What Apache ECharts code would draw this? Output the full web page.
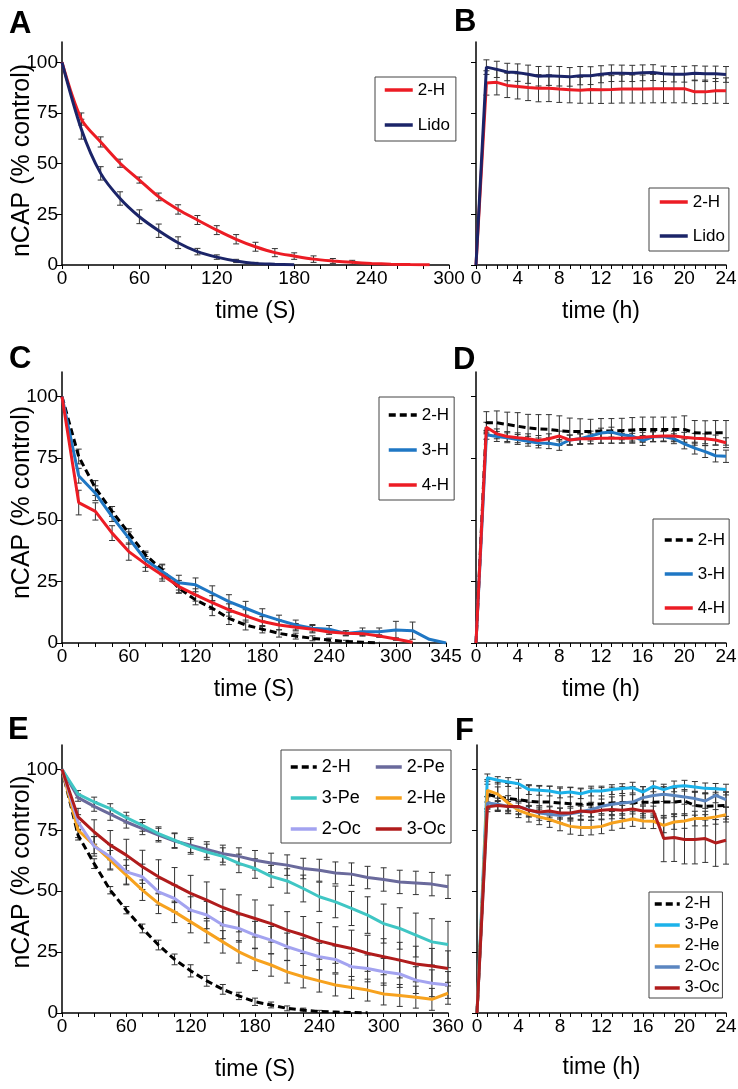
<!DOCTYPE html>
<html><head><meta charset="utf-8">
<script src="https://cdn.jsdelivr.net/npm/echarts@6.0.0/dist/echarts.min.js"></script>
<style>html,body{margin:0;padding:0;background:#fff}#c{width:738px;height:1089px}</style>
</head><body><div id="c"></div>
<script>
const FONT = '"Liberation Sans", Arial, Helvetica, sans-serif';

// ---------- tick labels ----------
const yTicks = [0, 25, 50, 75, 100];
const secLabelsA = [0, 60, 120, 180, 240, 300];
const secTicksA = [0, 20, 40, 60, 80, 100, 120, 140, 160, 180, 200, 220, 240, 260, 280, 300];
const secLabelsC = [0, 60, 120, 180, 240, 300, 345];
const secTicksC = [0, 15, 30, 45, 60, 75, 90, 105, 120, 135, 150, 165, 180, 195, 210, 225, 240, 255, 270, 285, 300, 315, 330, 345];
const secLabelsE = [0, 60, 120, 180, 240, 300, 360];
const secTicksE = [0, 15, 30, 45, 60, 75, 90, 105, 120, 135, 150, 165, 180, 195, 210, 225, 240, 255, 270, 285, 300, 315, 330, 345, 360];
const hourLabels = [0, 4, 8, 12, 16, 20, 24];
const hourTicks = [0, 1, 2, 3, 4, 5, 6, 7, 8, 9, 10, 11, 12, 13, 14, 15, 16, 17, 18, 19, 20, 21, 22, 23, 24];

// ---------- time points ----------
const timeA = [0, 15, 30, 45, 60, 75, 90, 105, 120, 135, 150, 165, 180, 195, 210, 225, 240, 255, 270, 285];
const timeC = [0, 15, 30, 45, 60, 75, 90, 105, 120, 135, 150, 165, 180, 195, 210, 225, 240, 255, 270, 285, 300, 315, 330, 345];
const timeE = [0, 15, 30, 45, 60, 75, 90, 105, 120, 135, 150, 165, 180, 195, 210, 225, 240, 255, 270, 285, 300, 315, 330, 345, 360];
const hours = [0, 1, 2, 3, 4, 5, 6, 7, 8, 9, 10, 11, 12, 13, 14, 15, 16, 17, 18, 19, 20, 21, 22, 23, 24];

// ---------- Panel A ----------
const a2H = [100, 72, 60.7, 50.2, 41.9, 33.6, 27.4, 22.2, 17.2, 12.7, 9.0, 6.1, 4.4, 2.9, 2.0, 1.3, 0.8, 0.4, 0.2, 0.1];
const a2HErr = [0, 3, 2.5, 2, 1.5, 1.9, 2.3, 2.2, 2.2, 2.3, 2.2, 2, 1.6, 1.6, 1.2, 1, 0, 0, 0, 0];
const aLido = [100, 67, 45.2, 32.8, 23.8, 16.9, 11.0, 6.6, 3.9, 2.0, 0.8, 0.4, 0.1];
const aLidoErr = [0, 4.9, 3.3, 3.3, 3.4, 3.3, 2.9, 1.6, 1.1, 0.8, 0.5, 0, 0];

// ---------- Panel B ----------
const bLido = [0, 97.6, 96.5, 95.2, 94.9, 94.1, 93.1, 93.3, 93.1, 92.8, 93.4, 93.4, 94.1, 94.6, 94.6, 94.5, 94.8, 94.9, 94.3, 94.1, 94.1, 94.6, 94.3, 94.3, 94.0];
const bLidoErr = [0, 3.6, 4, 4.3, 4.3, 4.5, 4.8, 4.7, 4.8, 4.6, 4.5, 4.4, 4.2, 4.1, 4.0, 4.0, 3.9, 3.9, 3.8, 3.8, 3.9, 3.7, 3.8, 3.8, 3.9];
const b2H = [0, 89.8, 90.1, 88.6, 88.1, 87.5, 87.2, 87.2, 86.8, 86.5, 86.2, 86.6, 86.5, 86.6, 86.8, 86.8, 86.8, 87.0, 87.0, 87.0, 87.0, 85.4, 85.4, 85.9, 86.0];
const b2HErr = [0, 6, 6.2, 6, 6.2, 6.4, 6.7, 6.6, 6.6, 6.5, 6.4, 6.8, 6.8, 6.8, 6.9, 6.9, 6.9, 7, 7, 7, 7, 5.8, 5.8, 6.1, 6.3];

// ---------- Panel C ----------
const c2H = [100, 75.7, 62.9, 53.4, 44.6, 35.8, 29.7, 22.2, 17.5, 14.1, 10.0, 7.3, 5.6, 3.9, 2.8, 1.9, 1.2, 0.6, 0.3, 0.1];
const c2HErr = [0, 3, 3, 2, 1.8, 1.5, 2, 2, 2, 3, 2.5, 2, 1.5, 1.5, 1.2, 1, 0.8, 0.5, 0, 0];
const c3H = [100, 67.9, 60.8, 51.3, 42.6, 33.7, 29.0, 24.5, 23.6, 20.2, 16.8, 14.1, 11.4, 9.3, 7.3, 6.0, 5.6, 3.9, 4.6, 4.6, 5.3, 5.0, 1.5, 0];
const c3HErr = [0, 3, 3, 2, 2.5, 3, 3, 3, 2.8, 3, 2.8, 2.8, 2.5, 2, 2, 1.5, 1.5, 1, 1.5, 1.5, 3.5, 3.5, 0, 0];
const c4H = [100, 57.0, 53.4, 44.6, 37.1, 32.1, 27.6, 22.9, 19.5, 16.4, 13.4, 11.0, 8.7, 7.3, 6.4, 5.6, 4.5, 4.0, 3.8, 2.8, 1.6, 0.3];
const c4HErr = [0, 5, 3.5, 3, 3.5, 3, 2.5, 2.5, 2.5, 2.8, 2.5, 2.5, 2, 2, 1.5, 1.5, 1, 1, 1, 0.5, 0.5, 0];

// ---------- Panel D ----------
const d2H = [0, 89.4, 89.4, 88.7, 88.0, 87.3, 86.9, 86.7, 86.2, 85.8, 85.8, 85.8, 86.1, 86.1, 86.2, 86.5, 86.7, 86.7, 86.7, 86.7, 86.7, 85.3, 85.2, 85.3, 85.3];
const d2HErr = [0, 4.5, 4.8, 5, 5.5, 5.5, 5.8, 6, 6, 5.5, 5.2, 5, 5, 5, 5, 5, 5, 5, 5, 5, 5.5, 5, 5, 5, 5];
const d3H = [0, 84.5, 83.8, 83.3, 82.6, 81.9, 81.2, 81.1, 80.4, 82.4, 82.9, 84.0, 85.2, 85.6, 84.5, 84.0, 82.2, 83.7, 83.8, 82.9, 80.8, 79.1, 77.7, 76.0, 75.8];
const d3HErr = [0, 1.8, 2, 2, 2, 2, 2, 2.2, 2.2, 2, 2, 2, 2, 2, 2, 2, 2, 2, 2, 2, 2, 2.4, 2.4, 2.5, 2.5];
const d4H = [0, 87.6, 84.9, 83.8, 83.3, 82.9, 82.2, 82.9, 84.0, 82.4, 82.9, 82.9, 83.1, 83.1, 83.1, 83.1, 83.5, 83.8, 84.0, 84.0, 83.5, 83.1, 82.9, 82.4, 81.3];
const d4HErr = [0, 2, 2, 2, 2, 2, 2, 2, 2, 2, 2, 2, 2, 2, 2, 2, 2, 2, 2, 2, 2, 2, 2, 2, 2];

// ---------- Panel E ----------
const e2H = [100, 73.0, 61.3, 50.4, 42.2, 34.7, 27.9, 22.0, 17.3, 13.2, 9.7, 7.0, 4.6, 3.3, 1.9, 1.2, 0.6, 0.4, 0.2, 0.1];
const e2HErr = [0, 2, 2, 1.5, 1.5, 1.8, 2, 2.2, 2.5, 2.2, 2, 1.5, 1.5, 1.2, 1, 0.8, 0.5, 0, 0, 0];
const e2Pe = [100, 88.4, 84.8, 81.6, 78.4, 75.7, 73.0, 70.6, 68.9, 67.1, 65.4, 64.3, 62.7, 61.6, 60.7, 59.3, 58.6, 57.5, 57.0, 55.6, 54.8, 53.8, 53.4, 52.9, 51.8];
const e2PeErr = [0, 1.5, 2, 2.5, 2.5, 2.5, 2.8, 3, 3, 3.2, 3.5, 3.5, 4, 4, 4.2, 4.2, 4.5, 4.5, 4.6, 4.6, 4.8, 4.8, 4.8, 4.8, 4.8];
const e3Pe = [100, 89.8, 86.6, 83.9, 80.2, 77.0, 73.6, 70.9, 68.2, 66.1, 64.3, 61.4, 59.3, 56.1, 54.2, 51.1, 47.7, 45.6, 42.9, 40.2, 36.7, 34.7, 32.0, 29.2, 28.1];
const e3PeErr = [0, 1.5, 2, 2, 2.2, 2.4, 2.8, 3, 3, 3.2, 3.5, 3.8, 4, 4.5, 5, 5.5, 6, 6.5, 7, 7.5, 8, 8.5, 9, 9.5, 9.5];
const e2He = [100, 75.0, 68.9, 62.7, 56.6, 50.4, 45.0, 41.5, 37.4, 33.3, 29.2, 25.1, 22.0, 19.7, 16.9, 14.9, 13.2, 11.5, 10.5, 9.4, 7.8, 7.2, 6.5, 5.6, 8.1];
const e2HeErr = [0, 3, 3.5, 4, 4, 4.2, 4.2, 4.4, 4.5, 4.5, 4.6, 4.6, 4.6, 4.6, 4.6, 4.6, 4.6, 4.5, 4.5, 4.5, 4.5, 4.5, 4.5, 4.5, 4.5];
const e2Oc = [100, 78.4, 68.4, 64.1, 57.9, 55.9, 49.7, 47.0, 42.2, 40.2, 36.1, 34.7, 32.0, 29.9, 27.2, 25.1, 23.1, 22.0, 19.0, 18.3, 16.9, 16.0, 13.5, 12.2, 11.5];
const e2OcErr = [0, 3, 4, 5, 5, 5.2, 5.4, 5.5, 5.5, 5.6, 5.6, 5.6, 5.6, 5.6, 5.6, 5.6, 5.5, 5.5, 5.5, 5.5, 5.5, 5.5, 5.5, 5.5, 5.5];
const e3Oc = [100, 80.5, 74.3, 68.9, 64.8, 60.0, 55.9, 52.5, 49.1, 46.3, 43.3, 40.9, 38.8, 36.7, 34.0, 32.0, 29.6, 27.9, 26.5, 24.5, 23.1, 21.7, 20.1, 19.3, 18.3];
const e3OcErr = [0, 3.5, 5, 6, 6.5, 6.8, 7, 7.2, 7.4, 7.5, 7.5, 7.6, 7.6, 7.6, 7.6, 7.6, 7.5, 7.5, 7.5, 7.4, 7.4, 7.3, 7.3, 7.2, 7.2];

// ---------- Panel F ----------
const f2H = [0, 89.8, 88.7, 88.0, 87.6, 86.9, 86.6, 86.6, 86.2, 85.9, 85.7, 85.7, 85.9, 86.2, 86.4, 86.4, 86.5, 86.5, 86.6, 86.6, 87.0, 85.2, 84.8, 85.0, 85.2];
const f2HErr = [0, 6, 6, 6.2, 6.2, 6.4, 6.5, 6.5, 6.6, 6.6, 6.6, 6.6, 6.6, 6.5, 6.5, 6.5, 6.4, 6.2, 6.2, 6, 6, 5.6, 5.6, 5.6, 5.6];
const f3Pe = [0, 96.6, 95.5, 94.8, 94.1, 91.7, 91.4, 91.1, 90.3, 90.7, 90.0, 91.1, 91.1, 91.7, 92.1, 92.5, 90.7, 93.0, 91.7, 93.0, 93.3, 92.8, 92.2, 92.0, 91.7];
const f3PeErr = [0, 1.5, 1.5, 1.8, 1.8, 2, 2, 2, 2, 2, 2, 2, 2, 2, 2, 2.2, 2.2, 2.2, 2.2, 2.2, 2.2, 2.2, 2.2, 2.2, 2.2];
const f2He = [0, 91.4, 89.8, 86.2, 83.2, 81.6, 80.5, 79.4, 78.0, 76.6, 76.1, 76.1, 76.6, 78.0, 78.8, 79.6, 78.8, 78.7, 77.0, 78.4, 78.8, 79.8, 79.8, 80.5, 81.4];
const f2HeErr = [0, 2.5, 3, 3, 3, 3.2, 3.2, 3.2, 3.2, 3.2, 3.2, 3, 3, 3, 3, 3, 3, 3, 3, 3, 3, 3, 3, 3, 3];
const f2Oc = [0, 86.2, 85.7, 84.8, 84.6, 83.5, 82.1, 81.6, 81.1, 81.8, 82.5, 83.5, 84.8, 85.7, 86.2, 86.6, 88.4, 89.3, 89.8, 89.3, 88.7, 88.0, 87.0, 89.3, 87.6];
const f2OcErr = [0, 2.5, 2.5, 2.8, 2.8, 3, 3, 3, 3, 3, 3, 3, 3, 3, 3, 3, 3, 3, 3, 3, 3, 3, 3, 3, 3];
const f3Oc = [0, 84.6, 85.2, 84.8, 84.8, 83.2, 82.5, 82.9, 82.1, 82.1, 82.9, 82.5, 83.2, 83.5, 83.2, 83.7, 82.9, 82.9, 71.6, 72.0, 71.2, 71.2, 71.6, 69.8, 70.9];
const f3OcErr = [0, 2, 2, 2, 2, 2, 2, 2, 2, 2, 2, 2, 2, 2, 2, 2, 2, 2, 9.5, 9.8, 10, 10, 9.8, 9.6, 9.8];

// ---------- colours ----------
const RED = '#ec1c24', NAVY = '#1b2468', BLACK = '#000000', BLUE3H = '#1f77c4';
const PE2 = '#6a6a9c', PE3 = '#3fc6c4', HE2 = '#f7a21e', OC2E = '#a3a3f0', OC3 = '#b01c1c';
const PE3F = '#1cb2ea', OC2F = '#5b86c0';

const panelSeries = [
  [ {name: 'A|2-H', t: timeA, v: a2H, e: a2HErr, c: RED, smooth: 0.3},
    {name: 'A|Lido', t: timeA, v: aLido, e: aLidoErr, c: NAVY, smooth: 0.3} ],
  [ {name: 'B|2-H', t: hours, v: b2H, e: b2HErr, c: RED},
    {name: 'B|Lido', t: hours, v: bLido, e: bLidoErr, c: NAVY} ],
  [ {name: 'C|2-H', t: timeC, v: c2H, e: c2HErr, c: BLACK, dash: true},
    {name: 'C|3-H', t: timeC, v: c3H, e: c3HErr, c: BLUE3H},
    {name: 'C|4-H', t: timeC, v: c4H, e: c4HErr, c: RED} ],
  [ {name: 'D|2-H', t: hours, v: d2H, e: d2HErr, c: BLACK, dash: true},
    {name: 'D|3-H', t: hours, v: d3H, e: d3HErr, c: BLUE3H},
    {name: 'D|4-H', t: hours, v: d4H, e: d4HErr, c: RED} ],
  [ {name: 'E|2-H', t: timeE, v: e2H, e: e2HErr, c: BLACK, dash: true},
    {name: 'E|2-Pe', t: timeE, v: e2Pe, e: e2PeErr, c: PE2},
    {name: 'E|3-Pe', t: timeE, v: e3Pe, e: e3PeErr, c: PE3},
    {name: 'E|2-He', t: timeE, v: e2He, e: e2HeErr, c: HE2},
    {name: 'E|2-Oc', t: timeE, v: e2Oc, e: e2OcErr, c: OC2E},
    {name: 'E|3-Oc', t: timeE, v: e3Oc, e: e3OcErr, c: OC3} ],
  [ {name: 'F|2-H', t: hours, v: f2H, e: f2HErr, c: BLACK, dash: true},
    {name: 'F|3-Pe', t: hours, v: f3Pe, e: f3PeErr, c: PE3F},
    {name: 'F|2-He', t: hours, v: f2He, e: f2HeErr, c: HE2},
    {name: 'F|2-Oc', t: hours, v: f2Oc, e: f2OcErr, c: OC2F},
    {name: 'F|3-Oc', t: hours, v: f3Oc, e: f3OcErr, c: OC3} ]
];

const grids = [
  {left: 62, top: 42, width: 387, height: 223},
  {left: 476, top: 42, width: 250, height: 223},
  {left: 62, top: 372, width: 384, height: 271},
  {left: 476, top: 372, width: 250, height: 271},
  {left: 62, top: 745, width: 386, height: 268},
  {left: 477, top: 745, width: 249, height: 268}
].map(g => Object.assign({containLabel: false, outerBoundsMode: 'none'}, g));
const xSpec = [
  {max: 300, labels: secLabelsA, ticks: secTicksA, name: 'time (S)', gap: 35},
  {max: 24, labels: hourLabels, ticks: hourTicks, name: 'time (h)', gap: 35},
  {max: 345, labels: secLabelsC, ticks: secTicksC, name: 'time (S)', gap: 35},
  {max: 24, labels: hourLabels, ticks: hourTicks, name: 'time (h)', gap: 35},
  {max: 360, labels: secLabelsE, ticks: secTicksE, name: 'time (S)', gap: 45},
  {max: 24, labels: hourLabels, ticks: hourTicks, name: 'time (h)', gap: 43}
];
// padding that nudges each rotated y-axis title along the axis
const yNamePad = [[0, 14, 0, 0], null, [0, 0, 0, 10], null, [0, 0, 0, 14], null];

const axisLine = {show: true, lineStyle: {color: '#000', width: 1.5}};
const xAxes = xSpec.map((s, i) => ({
  type: 'value', gridIndex: i, min: 0, max: s.max,
  axisLine: axisLine,
  axisTick: {show: true, customValues: s.ticks, length: 4, lineStyle: {color: '#000', width: 1}},
  axisLabel: {customValues: s.labels, fontSize: 19, color: '#000', margin: 4, fontFamily: FONT},
  splitLine: {show: false},
  name: s.name, nameLocation: 'middle', nameGap: s.gap, nameMoveOverlap: false,
  nameTextStyle: {fontSize: 23, color: '#000', fontFamily: FONT}
}));
const yAxes = grids.map((g, i) => ({
  type: 'value', gridIndex: i, min: 0, max: 110,
  axisLine: axisLine,
  axisTick: {show: true, customValues: yTicks, length: 5, lineStyle: {color: '#000', width: 1}},
  axisLabel: {show: i % 2 === 0, customValues: yTicks, fontSize: 19, color: '#000', margin: 4, fontFamily: FONT},
  splitLine: {show: false},
  name: i % 2 === 0 ? 'nCAP (% control)' : '', nameLocation: 'middle', nameGap: 27, nameMoveOverlap: false,
  nameTextStyle: Object.assign({fontSize: 25, color: '#000', fontFamily: FONT}, yNamePad[i] ? {padding: yNamePad[i]} : {})
}));

function errRender(params, api) {
  const x = api.value(0), y = api.value(1), e = api.value(2);
  const hi = api.coord([x, y + e]);
  const lo = api.coord([x, Math.max(0, y - e)]);
  const w = 3;
  const st = {stroke: '#333', lineWidth: 1};
  return {type: 'group', children: [
    {type: 'line', shape: {x1: hi[0], y1: hi[1], x2: lo[0], y2: lo[1]}, style: st},
    {type: 'line', shape: {x1: hi[0] - w, y1: hi[1], x2: hi[0] + w, y2: hi[1]}, style: st},
    {type: 'line', shape: {x1: lo[0] - w, y1: lo[1], x2: lo[0] + w, y2: lo[1]}, style: st}
  ]};
}

const series = [];
panelSeries.forEach((list, gi) => {
  list.forEach(s => {
    const bars = [];
    s.e.forEach((err, i) => { if (err > 0) bars.push([s.t[i], s.v[i], err]); });
    series.push({type: 'custom', name: s.name + '#err', xAxisIndex: gi, yAxisIndex: gi,
      renderItem: errRender, data: bars, z: 1, silent: true});
  });
});
panelSeries.forEach((list, gi) => {
  list.forEach(s => {
    series.push({type: 'line', name: s.name, xAxisIndex: gi, yAxisIndex: gi,
      data: s.v.map((v, i) => [s.t[i], v]),
      symbol: 'none', showSymbol: false, smooth: s.smooth || false, z: 2, silent: true,
      lineStyle: {color: s.c, width: 3, type: s.dash ? [7, 4] : 'solid'},
      itemStyle: {color: s.c}, emphasis: {disabled: true}});
  });
});

const fmt = n => n.split('|')[1];
function leg(names, left, top, opts) {
  return Object.assign({
    data: names, left: left, top: top, orient: 'vertical', selectedMode: false,
    itemWidth: 28, itemHeight: 14, itemGap: 15, padding: [3, 6, 6, 8],
    borderColor: '#444', borderWidth: 1, formatter: fmt,
    itemStyle: {opacity: 0}, lineStyle: {width: 3.5},
    textStyle: {fontSize: 17, lineHeight: 20, color: '#000', fontFamily: FONT}
  }, opts || {});
}
const legends = [
  leg(['A|2-H', 'A|Lido'], 375, 77),
  leg(['B|2-H', 'B|Lido'], 649, 188, {padding: [4, 4, 5, 9], itemGap: 14}),
  leg(['C|2-H', 'C|3-H', 'C|4-H'], 379, 397, {padding: [8, 5, 5, 8]}),
  leg(['D|2-H', 'D|3-H', 'D|4-H'], 653, 519, {padding: [11, 4, 6, 10], itemGap: 14}),
  leg(['E|2-H', 'E|3-Pe', 'E|2-Oc'], 289, 757, {padding: 0, borderWidth: 0, itemWidth: 26, itemGap: 11, textStyle: {fontSize: 18, lineHeight: 20, color: '#000', fontFamily: FONT}}),
  leg(['E|2-Pe', 'E|2-He', 'E|3-Oc'], 374, 757, {padding: 0, borderWidth: 0, itemWidth: 26, itemGap: 11, textStyle: {fontSize: 18, lineHeight: 20, color: '#000', fontFamily: FONT}}),
  leg(['F|2-H', 'F|3-Pe', 'F|2-He', 'F|2-Oc', 'F|3-Oc'], 649, 892, {padding: [3, 3, 1, 4], itemWidth: 25, itemGap: 3, textStyle: {fontSize: 16, lineHeight: 18, color: '#000', fontFamily: FONT}})
];

const letter = (t, l, tp) => ({text: t, left: l, top: tp, padding: 0,
  textStyle: {fontSize: 31, fontWeight: 'bold', color: '#000', fontFamily: FONT}});

const chart = echarts.init(document.getElementById('c'), null, {renderer: 'canvas'});
chart.setOption({
  animation: false,
  backgroundColor: '#fff',
  title: [letter('A', 9, 9), letter('B', 454, 7), letter('C', 9, 344), letter('D', 453, 345), letter('E', 8, 715), letter('F', 455, 716)],
  grid: grids,
  xAxis: xAxes,
  yAxis: yAxes,
  legend: legends,
  graphic: [{type: 'rect', shape: {x: 281, y: 750, width: 170, height: 93}, style: {fill: 'none', stroke: '#444', lineWidth: 1}, silent: true}],
  series: series
});
</script></body></html>
